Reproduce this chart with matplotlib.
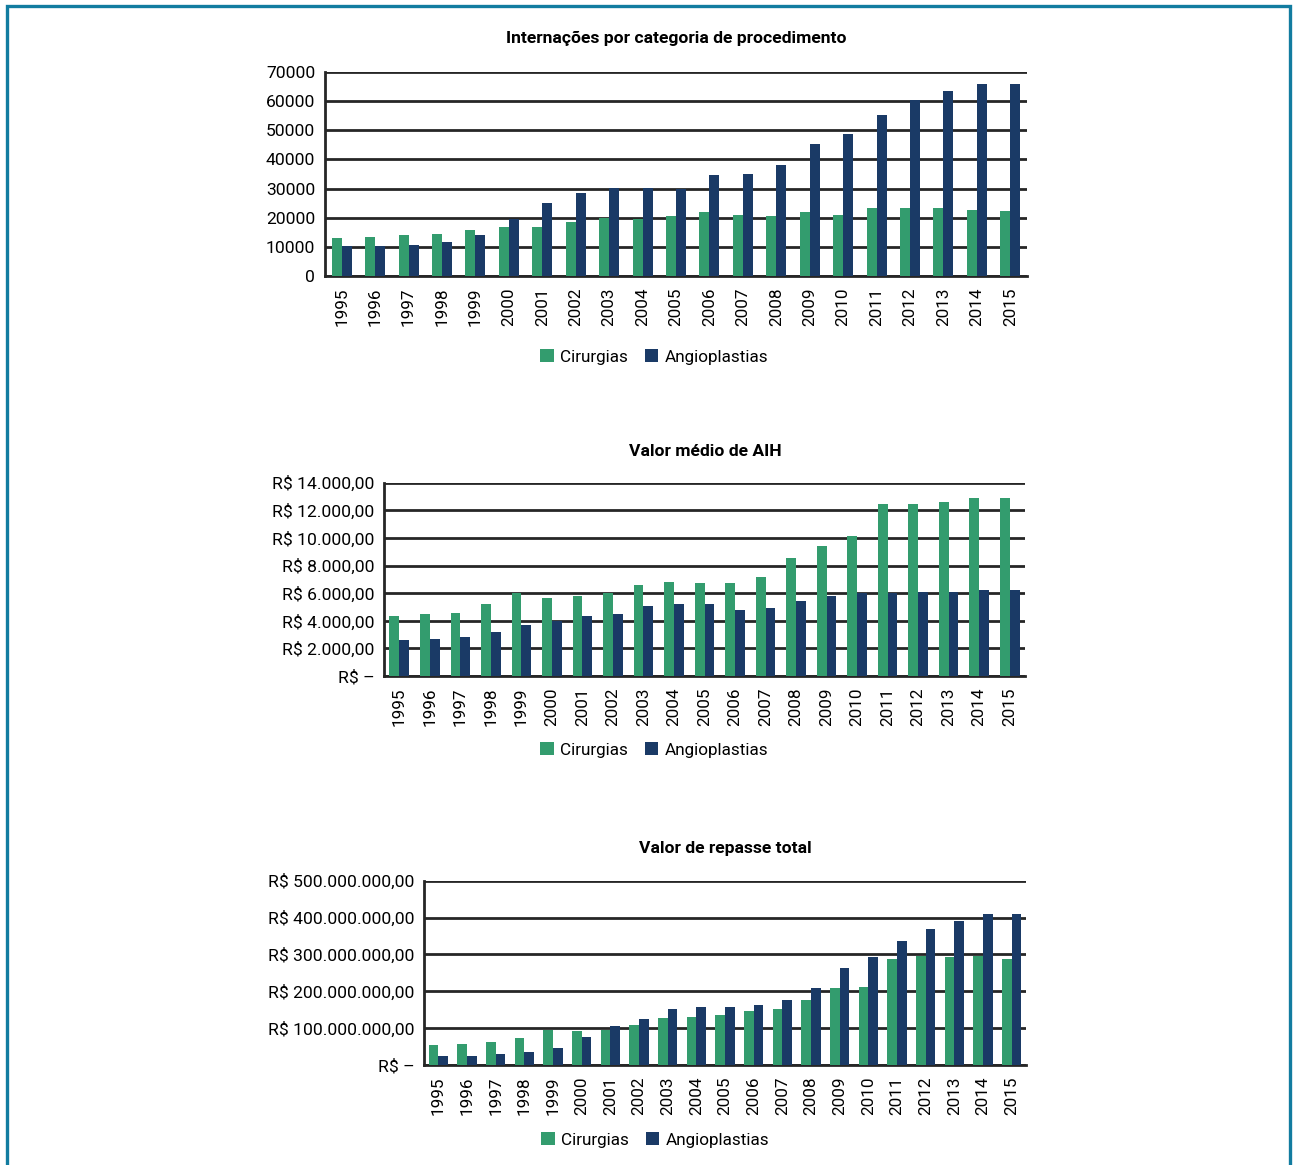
import matplotlib
matplotlib.use('Agg')
import matplotlib.pyplot as plt
from matplotlib.patches import Rectangle
import numpy as np

plt.rcParams['font.family'] = ['Roboto', 'DejaVu Sans']

anos = [str(a) for a in range(1995, 2016)]

# internacoes
int_cirurgias = [13000, 13300, 14000, 14300, 15700, 16700, 16700, 18400, 19900, 19400, 20450,
                 21800, 21100, 20450, 21800, 21100, 23200, 23500, 23200, 22500, 22200]
int_angio = [10200, 10200, 10600, 11600, 14000, 19400, 24900, 28600, 30300, 30300, 30000,
             34800, 35100, 38200, 45300, 48750, 55200, 60300, 63400, 65800, 65800]

# valor medio AIH (R$)
aih_cirurgias = [4330, 4470, 4545, 5200, 6000, 5630, 5780, 6000, 6575, 6790, 6720,
                 6720, 7160, 8535, 9405, 10130, 12450, 12450, 12600, 12890, 12890]
aih_angio = [2590, 2660, 2800, 3170, 3675, 3965, 4330, 4470, 5050, 5200, 5200,
             4760, 4910, 5415, 5780, 6000, 6000, 6070, 6070, 6210, 6210]

# repasse total (R$ milhoes)
rep_cirurgias = [54.2, 57.0, 62.4, 73.2, 94.9, 92.2, 94.9, 108.5, 127.5, 130.2, 135.6,
                 146.5, 151.9, 176.3, 208.9, 211.6, 287.5, 295.7, 292.9, 295.7, 287.5]
rep_angio = [24.4, 24.4, 29.8, 35.3, 46.1, 76.0, 105.8, 124.8, 151.9, 157.3, 157.3,
             162.7, 176.3, 208.9, 263.1, 292.9, 336.3, 368.9, 390.6, 409.6, 409.6]

verde = '#339c6e'
azul = '#1a3a66'
W, H = 1293, 1165


def brl(v):
    if v == 0:
        return 'R$ \u2013'
    s = '{:,.2f}'.format(v)
    s = s.replace(',', 'X').replace('.', ',').replace('X', '.')
    return 'R$ ' + s


def grafico(rect, c, a, largura, yticks, ylabels, titulo, tit_pos, leg_pos):
    ax = fig.add_axes(rect)
    x = np.arange(len(anos))
    ax.bar(x - largura / 2, c, largura, color=verde, label='Cirurgias', zorder=3)
    ax.bar(x + largura / 2, a, largura, color=azul, label='Angioplastias', zorder=3)
    ax.set_xlim(-0.5, len(anos) - 0.5)
    ax.set_ylim(yticks[0], yticks[-1])
    ax.set_yticks(yticks)
    ax.set_yticklabels(ylabels, fontsize=12.6)
    ax.set_xticks(x)
    ax.set_xticklabels(anos, rotation=90, fontsize=12.3)
    ax.tick_params(length=0, pad=7)
    ax.tick_params(axis='x', pad=8)
    ax.yaxis.grid(True, color='#262626', linewidth=2, zorder=1)
    ax.set_axisbelow(True)
    for s in ['top', 'right']:
        ax.spines[s].set_visible(False)
    for s in ['left', 'bottom']:
        ax.spines[s].set_color('#262626')
        ax.spines[s].set_linewidth(2)
    fig.text(tit_pos[0] / W, 1 - tit_pos[1] / H, titulo, ha='center', va='center',
             fontsize=12.6, fontweight='bold')
    ax.legend(loc='center', bbox_to_anchor=(leg_pos[0] / W, 1 - leg_pos[1] / H),
              bbox_transform=fig.transFigure, ncol=2, frameon=False, fontsize=12.3,
              handlelength=0.8, handleheight=0.8, handletextpad=0.35, columnspacing=1.0)
    return ax


fig = plt.figure(figsize=(W / 100, H / 100), dpi=100)

# moldura
fig.patches.append(Rectangle((6.5 / W, -0.1), 1283 / W, 1.1 - 6.5 / H, transform=fig.transFigure,
                             fill=False, edgecolor='#127ca0', linewidth=2.4, clip_on=False))

t1 = list(range(0, 70001, 10000))
grafico([325 / W, 1 - 276 / H, 702 / W, 204 / H], int_cirurgias, int_angio, 0.30,
        t1, [str(t) for t in t1], 'Internações por categoria de procedimento',
        (676, 38), (654, 357))

t2 = list(range(0, 14001, 2000))
grafico([384 / W, 1 - 676 / H, 641 / W, 193.3 / H], aih_cirurgias, aih_angio, 0.32,
        t2, [brl(t) for t in t2], 'Valor médio de AIH', (705, 451), (654, 750))

t3 = list(range(0, 501, 100))
grafico([424 / W, 1 - 1065 / H, 602 / W, 184.3 / H], rep_cirurgias, rep_angio, 0.34,
        t3, [brl(t * 1e6) for t in t3], 'Valor de repasse total', (725, 849), (655, 1140))

fig.savefig('out.png', dpi=100)
